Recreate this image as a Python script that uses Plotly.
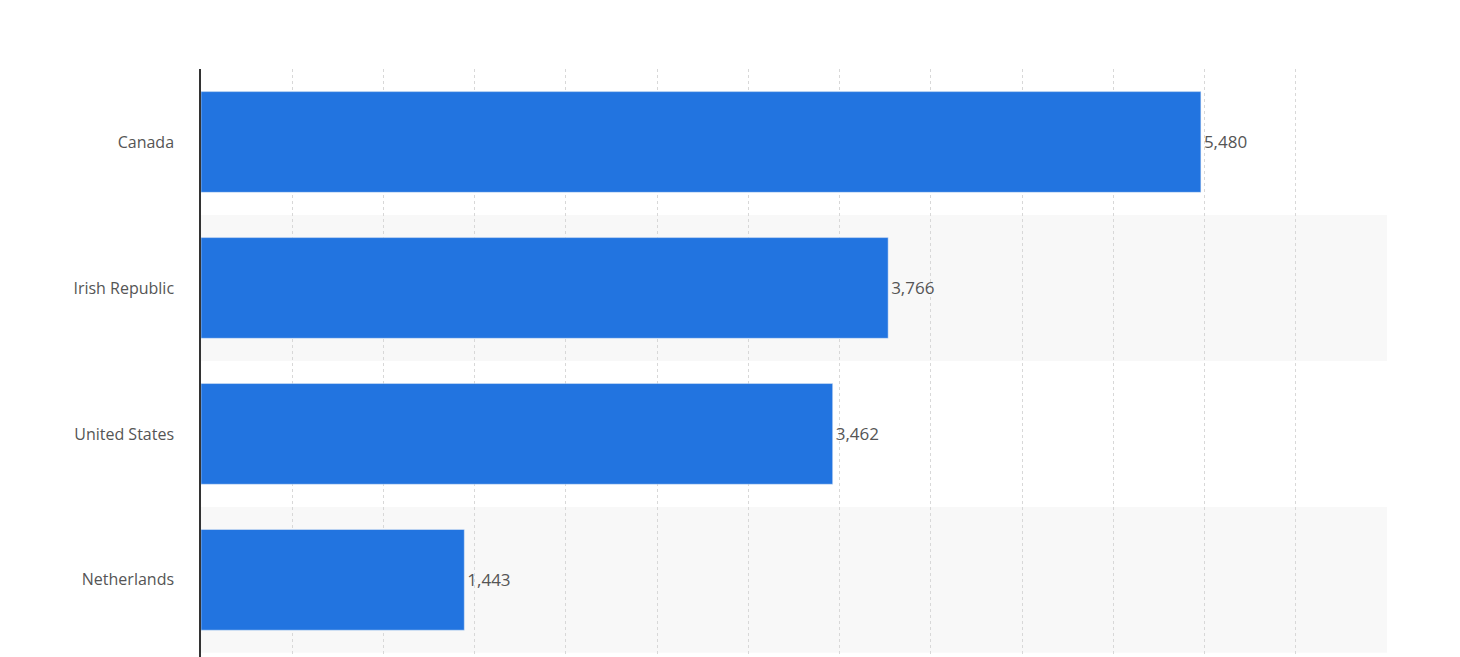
import plotly.graph_objects as go

countries = ["Canada", "Irish Republic", "United States", "Netherlands"]
values = [5480, 3766, 3462, 1443]
pos = list(range(len(countries)))

fig = go.Figure()
for i in pos:
    if i % 2 == 1:
        fig.add_shape(type="rect", xref="paper", x0=0, x1=1, yref="y", y0=i-0.5, y1=i+0.5,
                      fillcolor="#f8f8f8", line_width=0, layer="below")
fig.add_trace(go.Bar(
    y=pos, x=values, orientation="h", width=0.69,
    marker=dict(color="#2274e0"),
    text=[f"{v:,}" for v in values], textposition="outside",
    textfont=dict(family="Open Sans, sans-serif", size=17, color="#555"),
    cliponaxis=False,
))
fig.update_layout(
    width=1460, height=657, margin=dict(l=193, r=81, t=61, b=0),
    plot_bgcolor="rgba(0,0,0,0)", paper_bgcolor="white", showlegend=False,
    xaxis=dict(range=[0, 6500], dtick=500, showticklabels=False, showgrid=True,
               gridcolor="#d8d8d8", griddash="dot", zeroline=False, ticks=""),
    yaxis=dict(tickvals=pos, ticktext=countries, range=[3.5+12/144, -0.5],
               showline=True, linecolor="#333", linewidth=1.5, showgrid=False,
               zeroline=False, ticks="", ticklabelstandoff=22,
               tickfont=dict(family="Open Sans, sans-serif", size=16, color="#555")),
)
fig.write_html("out.html")
